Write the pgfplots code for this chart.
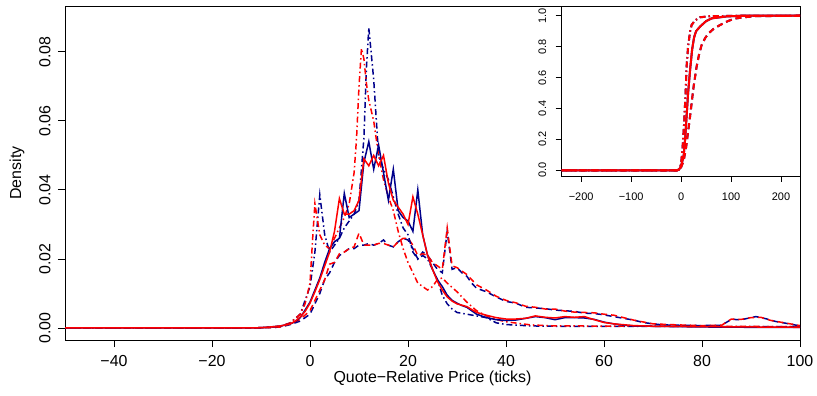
\documentclass[border=0pt]{standalone}
\usepackage{pgfplots}
\pgfplotsset{compat=1.18}
\usepackage{fontspec}
\setmainfont{Liberation Sans}
\definecolor{rblue}{RGB}{0,0,139}
\definecolor{rred}{RGB}{255,0,0}
\tikzset{
  sol/.style={line width=1.5bp},
  dsh/.style={line width=1.5bp, dash pattern=on 6bp off 4bp},
  ddt/.style={line width=1.5bp, dash pattern=on 1.5bp off 3bp on 6bp off 3bp},
}
\begin{document}
\begin{tikzpicture}
\path[use as bounding box] (0,0) rectangle (817bp,396bp);
\begin{axis}[
  at={(65bp,56bp)}, anchor=south west,
  width=735bp, height=334bp, scale only axis,
  xmin=-50, xmax=100, ymin=-0.00348, ymax=0.0933,
  axis line style={black, line width=0.9bp},
  tick style={black, line width=0.9bp},
  major tick length=7bp, tick align=outside,
  xtick pos=left, ytick pos=left,
  xtick={-40,-20,0,20,40,60,80,100},
  xticklabels={−40,−20,0,20,40,60,80,100},
  ytick={0,0.02,0.04,0.06,0.08},
  yticklabels={0.00,0.02,0.04,0.06,0.08},
  scaled y ticks=false,
  xticklabel style={font=\fontsize{16}{18}\selectfont, yshift=-5bp},
  yticklabel style={font=\fontsize{16}{18}\selectfont, rotate=90, anchor=south, yshift=4bp},
  xlabel={Quote−Relative Price (ticks)},
  ylabel={Density},
  label style={font=\fontsize{16}{18}\selectfont},
  xlabel style={at={(axis description cs:0.5,-0.1138)}, anchor=center},
  ylabel style={at={(axis description cs:-0.0653,0.5)}, anchor=center, rotate=0},
  clip=true,
]
% blue dashed
\addplot[rblue, dsh] coordinates {(-50,0) (-12,0) (-8,0.0001) (-6,0.0003) (-4,0.001) (-2,0.002) (0,0.004) (1,0.007) (2,0.010) (3,0.014) (4,0.016) (5,0.019) (6,0.021) (7,0.022) (8,0.023) (9,0.023) (10,0.024) (11,0.024) (12,0.0245) (13,0.024) (14,0.0245) (15,0.0255) (16,0.024) (17,0.0235) (18,0.025) (19,0.026) (20,0.0255) (21,0.023) (22,0.020) (23,0.022) (24,0.021) (25,0.019) (26,0.017) (27,0.016) (28,0.028) (29,0.017) (30,0.0175) (31,0.016) (32,0.015) (33,0.013) (34,0.0115) (36,0.0105) (38,0.009) (40,0.0077) (42,0.0072) (44,0.006) (46,0.0058) (48,0.0056) (50,0.0052) (52,0.005) (54,0.0048) (56,0.0043) (58,0.0042) (60,0.0038) (62,0.0033) (64,0.0028) (66,0.0023) (68,0.0016) (70,0.0012) (72,0.0009) (75,0.0008) (80,0.0007) (84,0.0008) (86,0.0025) (88,0.0024) (90,0.003) (91,0.0033) (93,0.0027) (95,0.0019) (97,0.0014) (100,0.0006)};
% red dashed
\addplot[rred, dsh] coordinates {(-50,0) (-12,0) (-8,0.0001) (-6,0.0003) (-4,0.0012) (-2,0.0025) (0,0.005) (1,0.008) (2,0.011) (3,0.014) (4,0.0185) (5,0.019) (6,0.0215) (7,0.022) (8,0.023) (9,0.0235) (10,0.0275) (11,0.024) (12,0.024) (13,0.024) (14,0.0245) (15,0.0245) (16,0.024) (17,0.0235) (18,0.025) (19,0.026) (20,0.026) (21,0.024) (22,0.021) (23,0.0215) (24,0.021) (25,0.019) (26,0.018) (27,0.017) (28,0.029) (29,0.018) (30,0.0175) (32,0.0155) (34,0.0125) (36,0.011) (38,0.0092) (40,0.008) (42,0.0073) (44,0.0063) (46,0.006) (48,0.0055) (50,0.0055) (52,0.0049) (54,0.0046) (56,0.0045) (58,0.0044) (60,0.004) (62,0.0037) (64,0.003) (66,0.0023) (70,0.0012) (75,0.0009) (80,0.0007) (84,0.0008) (86,0.0026) (88,0.0025) (90,0.003) (92,0.0031) (94,0.0022) (96,0.0017) (100,0.0007)};
% blue dot-dash
\addplot[rblue, ddt] coordinates {(-50,0) (-12,0) (-8,0.0002) (-6,0.0005) (-4,0.0015) (-2,0.004) (-1,0.008) (0,0.012) (1,0.022) (2,0.0386) (3,0.027) (4,0.022) (5,0.024) (6,0.026) (7,0.029) (8,0.031) (9,0.033) (10,0.037) (11,0.055) (11.5,0.075) (12,0.087) (13,0.072) (14,0.050) (15,0.046) (16,0.043) (17,0.038) (18,0.033) (19,0.029) (20,0.027) (21,0.022) (22,0.020) (23,0.021) (24,0.020) (25,0.017) (26,0.014) (27,0.0095) (28,0.007) (29,0.0055) (30,0.0045) (32,0.004) (34,0.0035) (36,0.003) (38,0.0015) (40,0.001) (45,0.0006) (50,0.0005) (100,0.0004)};
% red dot-dash
\addplot[rred, ddt] coordinates {(-50,0) (-12,0) (-8,0.0002) (-6,0.0005) (-4,0.0015) (-2,0.004) (-1,0.007) (0,0.013) (0.5,0.025) (1,0.036) (2,0.027) (3,0.024) (4,0.023) (5,0.026) (6,0.029) (7,0.032) (8,0.036) (9,0.045) (9.5,0.055) (10,0.070) (10.5,0.081) (11,0.078) (11.5,0.071) (12,0.066) (13,0.060) (14,0.050) (15,0.043) (16,0.038) (17,0.034) (18,0.028) (19,0.023) (20,0.019) (21,0.016) (22,0.013) (23,0.012) (24,0.011) (25,0.012) (26,0.014) (27,0.0145) (28,0.013) (30,0.0105) (32,0.0075) (34,0.005) (36,0.0035) (38,0.0025) (40,0.0018) (45,0.0009) (50,0.0006) (100,0.0004)};
% blue solid
\addplot[rblue, sol] coordinates {(-50,0) (-12,0) (-10,0.0001) (-8,0.0003) (-6,0.0006) (-4,0.0012) (-3,0.0018) (-2,0.003) (-1,0.0052) (0,0.0075) (1,0.011) (2,0.0145) (3,0.019) (4,0.023) (5,0.025) (6,0.026) (7,0.039) (8,0.032) (9,0.033) (10,0.034) (11,0.048) (12,0.054) (13,0.046) (14,0.053) (15,0.045) (16,0.037) (17,0.046) (18,0.034) (19,0.032) (20,0.031) (21,0.028) (22,0.040) (23,0.027) (24,0.021) (25,0.017) (26,0.014) (27,0.012) (28,0.0095) (29,0.008) (30,0.0072) (31,0.0065) (32,0.006) (33,0.005) (34,0.004) (35,0.0035) (36,0.003) (38,0.0024) (40,0.0022) (42,0.0023) (44,0.0028) (46,0.0033) (48,0.003) (50,0.0024) (52,0.003) (54,0.003) (56,0.0029) (58,0.0025) (60,0.0017) (62,0.0012) (64,0.0008) (66,0.0006) (70,0.0005) (75,0.0004) (80,0.0003) (90,0.0002) (100,0.0002)};
% red solid
\addplot[rred, sol] coordinates {(-50,0) (-12,0) (-10,0.0001) (-8,0.0003) (-6,0.0006) (-4,0.0012) (-3,0.002) (-2,0.0032) (-1,0.0048) (0,0.0072) (1,0.0105) (2,0.014) (3,0.018) (4,0.022) (5,0.028) (6,0.0375) (7,0.033) (8,0.033) (9,0.034) (10,0.037) (11,0.049) (12,0.047) (13,0.050) (14,0.047) (15,0.050) (16,0.042) (17,0.037) (18,0.035) (19,0.033) (20,0.030) (21,0.038) (22,0.033) (23,0.027) (24,0.021) (25,0.017) (26,0.0135) (27,0.011) (28,0.009) (29,0.0078) (30,0.007) (32,0.0062) (34,0.0045) (36,0.0037) (38,0.003) (40,0.0026) (42,0.0026) (44,0.0028) (46,0.0035) (48,0.0031) (50,0.0029) (52,0.0033) (54,0.0031) (56,0.0033) (58,0.0024) (60,0.0016) (62,0.0012) (66,0.0007) (70,0.0005) (80,0.0004) (90,0.0003) (100,0.0002)};
\end{axis}
\begin{axis}[
  at={(561.7bp,220bp)}, anchor=south west,
  width=238.3bp, height=170bp, scale only axis,
  xmin=-239, xmax=238, ymin=-0.037, ymax=1.063,
  axis background/.style={fill=white},
  axis line style={black, line width=0.9bp},
  tick style={black, line width=0.9bp},
  major tick length=6bp, tick align=outside,
  xtick pos=left, ytick pos=left,
  xtick={-200,-100,0,100,200},
  xticklabels={−200,−100,0,100,200},
  ytick={0,0.2,0.4,0.6,0.8,1},
  yticklabels={0.0,0.2,0.4,0.6,0.8,1.0},
  xticklabel style={font=\fontsize{11}{13}\selectfont, yshift=-7bp},
  yticklabel style={font=\fontsize{11}{13}\selectfont, rotate=90, anchor=south, yshift=6bp},
  clip=true,
]
\addplot[rblue, line width=2bp, dash pattern=on 1.5bp off 3bp on 6bp off 3bp] coordinates {(-240,0) (-8,0) (-4,0.006) (0,0.04) (3,0.15) (6,0.3) (9,0.5) (11,0.67) (14,0.8) (18,0.9) (21,0.94) (28,0.97) (38,0.99) (60,0.998) (240,1)};
\addplot[rblue, line width=2bp, dash pattern=on 6bp off 4bp] coordinates {(-240,0) (-8,0) (-4,0.004) (0,0.02) (5,0.06) (10,0.15) (14,0.25) (18,0.35) (22,0.46) (25,0.54) (31,0.67) (36,0.75) (41,0.81) (48,0.855) (55,0.886) (65,0.915) (78,0.94) (90,0.96) (105,0.98) (125,0.99) (150,0.997) (240,1)};
\addplot[rblue, line width=2bp] coordinates {(-240,0) (-8,0) (-4,0.005) (0,0.03) (5,0.09) (8,0.2) (11,0.35) (14,0.5) (18,0.65) (22,0.78) (26,0.86) (30,0.9) (38,0.93) (50,0.965) (61,0.983) (90,0.995) (120,1) (240,1)};
\addplot[rred, line width=2bp, dash pattern=on 1.5bp off 3bp on 6bp off 3bp] coordinates {(-240,0) (-8,0) (-4,0.006) (0,0.04) (3,0.15) (6,0.3) (9,0.5) (11,0.67) (14,0.8) (18,0.9) (21,0.94) (28,0.97) (38,0.99) (60,0.998) (240,1)};
\addplot[rred, line width=2bp, dash pattern=on 6bp off 4bp] coordinates {(-240,0) (-8,0) (-4,0.004) (0,0.02) (5,0.06) (10,0.15) (14,0.25) (18,0.35) (22,0.46) (25,0.54) (31,0.67) (36,0.75) (41,0.81) (48,0.855) (55,0.886) (65,0.915) (78,0.94) (90,0.96) (105,0.98) (125,0.99) (150,0.997) (240,1)};
\addplot[rred, line width=2bp] coordinates {(-240,0) (-8,0) (-4,0.005) (0,0.03) (5,0.09) (8,0.2) (11,0.35) (14,0.5) (18,0.65) (22,0.78) (26,0.86) (30,0.9) (38,0.93) (50,0.965) (61,0.983) (90,0.995) (120,1) (240,1)};
\end{axis}
\end{tikzpicture}
\end{document}
